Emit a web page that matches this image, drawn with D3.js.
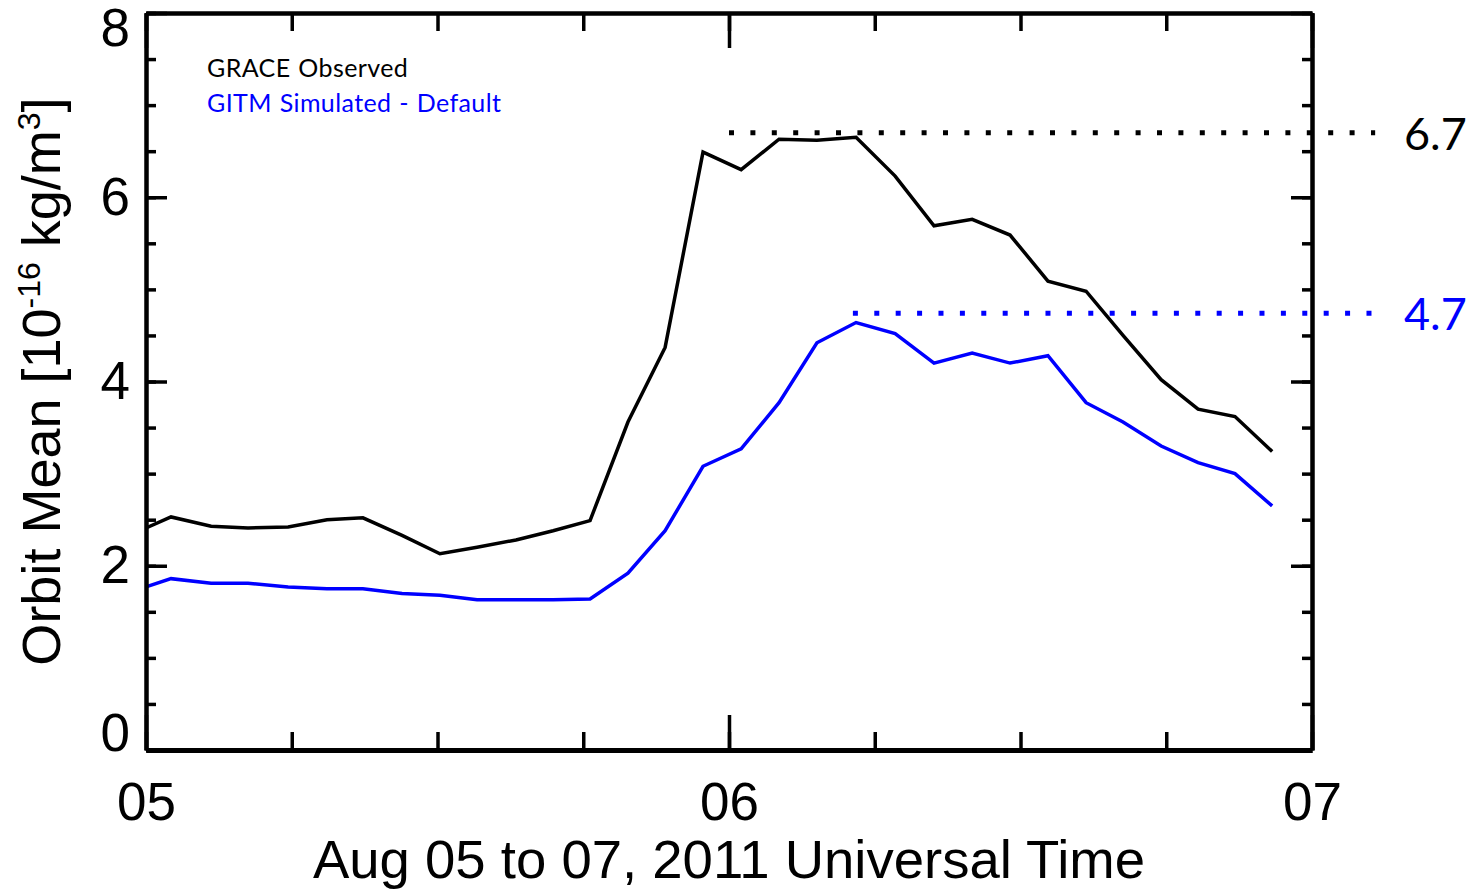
<!DOCTYPE html>
<html>
<head>
<meta charset="utf-8">
<script src="https://cdn.jsdelivr.net/npm/d3@7"></script>
<style>
  body { margin: 0; background: #fff; }
  text { font-family: "Liberation Sans", Arial, sans-serif; }
</style>
</head>
<body>
<div id="chart"></div>
<script>
// hours after Aug 05 00:00 UT, one value per orbit
var hours = [0, 1.03, 2.68, 4.20, 5.85, 7.45, 8.93, 10.54, 12.10, 13.63, 15.23, 16.76, 18.28,
  19.84, 21.37, 22.93, 24.50, 26.06, 27.62, 29.23, 30.84, 32.44, 34.01, 35.57, 37.13,
  38.70, 40.22, 41.79, 43.31, 44.83, 46.36];

var grace = [2.41, 2.53, 2.43, 2.41, 2.42, 2.50, 2.52, 2.33, 2.13, 2.20, 2.28, 2.38, 2.49,
  3.56, 4.37, 6.49, 6.30, 6.63, 6.62, 6.65, 6.23, 5.69, 5.76, 5.59, 5.09,
  4.98, 4.50, 4.02, 3.70, 3.62, 3.24];

var gitm = [1.77, 1.86, 1.81, 1.81, 1.77, 1.75, 1.75, 1.70, 1.68, 1.63, 1.63, 1.63, 1.64,
  1.92, 2.38, 3.08, 3.27, 3.77, 4.42, 4.64, 4.52, 4.20, 4.31, 4.20, 4.28,
  3.77, 3.56, 3.30, 3.12, 3.00, 2.65];

var seriesNames = ["GRACE Observed", "GITM Simulated - Default"];

// x ticks every 6 hours, labelled at each day
var xMinorTicks = [0, 6, 12, 18, 24, 30, 36, 42, 48];
var xMajorTicks = [0, 24, 48];
var xTickLabels = ["05", "06", "07"];

var yMinorTicks = d3.range(0, 8.01, 0.5);
var yMajorTicks = [0, 2, 4, 6, 8];

// peak levels marked with dotted lines (start hour, end hour)
var peakLevels = [6.7, 4.74];
var peakLabels = ["6.7", "4.7"];
var peakStart = [24.0, 29.1];
var peakEnd = [50.6, 50.45];

var chart = (function() {

    var W = 1478, H = 890;
    var left = 146, right = 1312, top = 13, bottom = 750;
    var colors = ["#000000", "#0000ff"];

    function draw(svg) {

        var x = d3.scaleLinear().domain([0, 48]).range([left, right]);
        var y = d3.scaleLinear().domain([0, 8]).range([bottom, top]);

        var rows = hours.map(function(h, i) {
            return {h: h, v: [grace[i], gitm[i]]};
        });

        //data lines
        [0, 1].forEach(function(k) {
            var line = d3.line()
                .x(function(d) { return x(d.h); })
                .y(function(d) { return y(d.v[k]); });
            svg.append("path")
                .datum(rows)
                .attr("fill", "none")
                .attr("stroke", colors[k])
                .attr("stroke-width", 3.5)
                .attr("d", line);
        });

        //dotted peak markers + their labels
        peakLevels.forEach(function(lv, k) {
            svg.append("line")
                .attr("x1", x(peakStart[k])).attr("x2", x(peakEnd[k]))
                .attr("y1", y(lv)).attr("y2", y(lv))
                .attr("stroke", colors[k])
                .attr("stroke-width", 5)
                .attr("stroke-dasharray", "5,16.4");
            svg.append("text")
                .attr("x", 1404)
                .attr("y", y(lv) + 17)
                .attr("fill", colors[k])
                .style("font-family", "Lato, 'Open Sans', sans-serif")
                .style("font-size", "45px")
                .text(peakLabels[k]);
        });

        //axes: minor ticks first, then the long ones with labels
        function styleAxis(g, width) {
            g.select(".domain").attr("stroke-width", width);
            g.selectAll(".tick line").attr("stroke-width", 3.5);
        }

        svg.append("g").attr("transform", "translate(0," + bottom + ")")
            .call(d3.axisBottom(x).tickValues(xMinorTicks).tickSize(-18).tickSizeOuter(0).tickFormat(""))
            .call(styleAxis, 5);
        svg.append("g").attr("transform", "translate(0," + bottom + ")")
            .call(d3.axisBottom(x).tickValues(xMajorTicks).tickSize(-35).tickSizeOuter(0).tickPadding(32)
                .tickFormat(function(d, i) { return xTickLabels[i]; }))
            .call(styleAxis, 5)
            .selectAll("text").style("font-size", "53px").attr("fill", "#000");

        svg.append("g").attr("transform", "translate(0," + top + ")")
            .call(d3.axisTop(x).tickValues(xMinorTicks).tickSize(-18).tickSizeOuter(0).tickFormat(""))
            .call(styleAxis, 4);
        svg.append("g").attr("transform", "translate(0," + top + ")")
            .call(d3.axisTop(x).tickValues(xMajorTicks).tickSize(-35).tickSizeOuter(0).tickFormat(""))
            .call(styleAxis, 4);

        svg.append("g").attr("transform", "translate(" + left + ",0)")
            .call(d3.axisLeft(y).tickValues(yMinorTicks).tickSize(-10).tickSizeOuter(0).tickFormat(""))
            .call(styleAxis, 4);
        var yl = svg.append("g").attr("transform", "translate(" + left + ",0)")
            .call(d3.axisLeft(y).tickValues(yMajorTicks).tickSize(-21).tickSizeOuter(0).tickPadding(16)
                .tickFormat(d3.format("d")))
            .call(styleAxis, 4);
        yl.selectAll("text").style("font-size", "53px").attr("fill", "#000")
            // keep end labels inside the frame, like the original plot
            .attr("dy", function(d) { return d === 0 ? "-0.0em" : d === 8 ? "0.62em" : "0.32em"; });

        svg.append("g").attr("transform", "translate(" + right + ",0)")
            .call(d3.axisRight(y).tickValues(yMinorTicks).tickSize(-10).tickSizeOuter(0).tickFormat(""))
            .call(styleAxis, 4);
        svg.append("g").attr("transform", "translate(" + right + ",0)")
            .call(d3.axisRight(y).tickValues(yMajorTicks).tickSize(-21).tickSizeOuter(0).tickFormat(""))
            .call(styleAxis, 4);

        //axis titles
        svg.append("text")
            .attr("x", (left + right) / 2)
            .attr("y", 878)
            .attr("text-anchor", "middle")
            .style("font-size", "54.5px")
            .text("Aug 05 to 07, 2011 Universal Time");

        var yt = svg.append("text")
            .attr("transform", "translate(60," + ((top + bottom) / 2) + ") rotate(-90)")
            .attr("text-anchor", "middle")
            .style("font-size", "54px");
        yt.append("tspan").text("Orbit Mean [10");
        yt.append("tspan").attr("dy", -20).style("font-size", "32px").text("-16");
        yt.append("tspan").attr("dy", 20).text(" kg/m");
        yt.append("tspan").attr("dy", -20).style("font-size", "32px").text("3");
        yt.append("tspan").attr("dy", 20).text("]");

        //legend
        seriesNames.forEach(function(name, k) {
            svg.append("text")
                .attr("x", 207)
                .attr("y", 77 + k * 35)
                .attr("fill", colors[k])
                .style("font-family", "Lato, 'Open Sans', sans-serif")
                .style("font-size", "25px")
                .style("letter-spacing", "0.4px")
                .style("word-spacing", "1px")
                .text(name);
        });
    }

    return {
        render: function(placement) {
            d3.select(placement).html("");
            var svg = d3.select(placement).append("svg")
                .attr("width", W).attr("height", H)
                .style("background", "#fff");
            draw(svg);
        }
    };
})();

chart.render("#chart");
</script>
</body>
</html>
